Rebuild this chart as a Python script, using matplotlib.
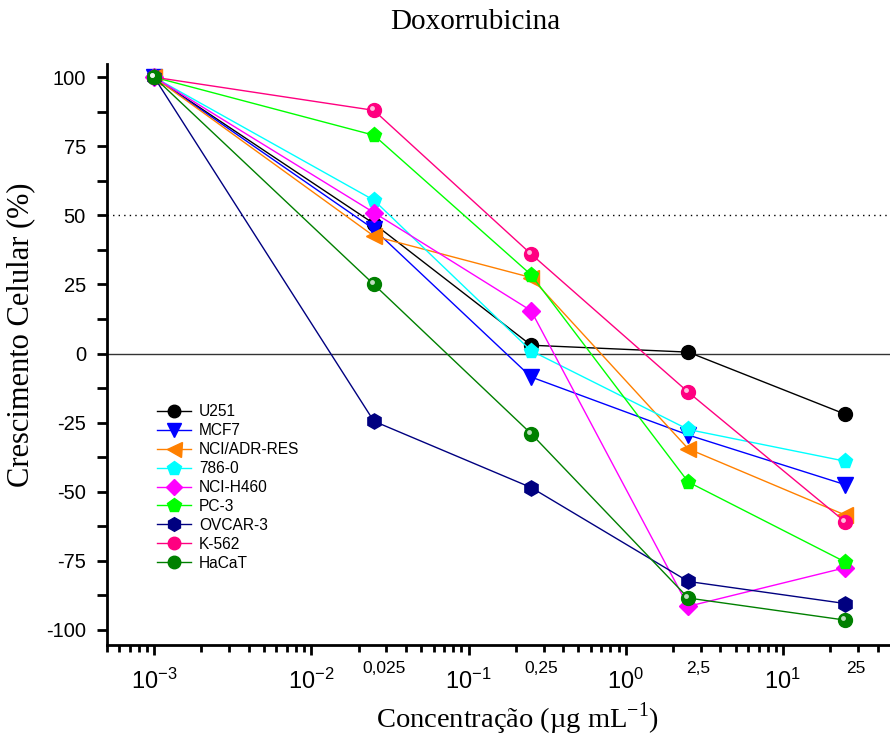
import matplotlib
matplotlib.use("Agg")
import matplotlib.pyplot as plt
import matplotlib.transforms as mtransforms
from matplotlib.ticker import FixedLocator, LogLocator, NullFormatter

plt.rcParams["axes.unicode_minus"] = False

conc = [0.001, 0.025, 0.25, 2.5, 25]
conc_labels = ["0,025", "0,25", "2,5", "25"]

lines = ["U251", "MCF7", "NCI/ADR-RES", "786-0", "NCI-H460", "PC-3", "OVCAR-3", "K-562", "HaCaT"]
u251 = [100, 47, 3, 0.5, -22]
mcf7 = [100, 45, -8.5, -29.5, -47.5]
nci_adr = [100, 42.5, 27.5, -34.5, -58.5]
c786 = [100, 55.5, 1, -27.5, -39]
h460 = [100, 51, 15.5, -91.5, -77.5]
pc3 = [100, 79, 28.5, -46.5, -75.5]
ovcar3 = [100, -24.5, -48.5, -82.5, -90.5]
k562 = [100, 88, 36, -14, -61]
hacat = [100, 25, -29, -88.5, -96.5]

series = [u251, mcf7, nci_adr, c786, h460, pc3, ovcar3, k562, hacat]
colors = ["black", "#0000FF", "#FF8000", "#00FFFF", "#FF00FF", "#00FF00", "#000080", "#FF0080", "#008000"]
markers = ["o", "v", "<", "p", "D", "p", "h", "o", "o"]
sizes = [10, 11, 12, 11, 9, 11, 11, 10, 10]
sphere = [False, False, False, False, False, False, False, True, True]

fig = plt.figure(figsize=(8.9, 7.38), dpi=100)
ax = fig.add_axes([0.12, 0.126, 0.88, 0.787])

ax.axhline(0, color="#333333", lw=1, zorder=1)
ax.axhline(50, color="black", lw=1, ls=(0, (1, 3)), zorder=1)

hl = mtransforms.offset_copy(ax.transData, fig=fig, x=-1.5, y=1.5, units="points")
for name, vals, c, m, s, sp in zip(lines, series, colors, markers, sizes, sphere):
    ax.plot(conc, vals, color=c, lw=1, marker=m, ms=s, mec=c, mfc=c, label=name, zorder=3)
    if sp:
        ax.plot(conc, vals, ls="none", marker="o", ms=3.5, mfc="white", mec="none",
                alpha=0.75, transform=hl, zorder=4)

ax.set_xscale("log")
ax.set_xlim(0.0005, 48)
ax.set_ylim(-105.5, 104.7)

ax.yaxis.set_major_locator(FixedLocator([-100, -75, -50, -25, 0, 25, 50, 75, 100]))
ax.yaxis.set_minor_locator(FixedLocator([-87.5, -62.5, -37.5, -12.5, 12.5, 37.5, 62.5, 87.5]))
ax.xaxis.set_major_locator(LogLocator(base=10, numticks=10))
ax.xaxis.set_minor_locator(LogLocator(base=10, subs=range(2, 10), numticks=20))
ax.xaxis.set_minor_formatter(NullFormatter())

for s in ["top", "right"]:
    ax.spines[s].set_visible(False)
ax.spines["left"].set_linewidth(2)
ax.spines["bottom"].set_linewidth(2)
ax.tick_params(axis="both", which="major", direction="out", width=2, length=7, labelsize=14.5,
               labelfontfamily="Liberation Sans")
ax.tick_params(axis="y", which="major", pad=8)
ax.tick_params(axis="y", which="minor", direction="out", width=2, length=7)
ax.tick_params(axis="x", which="minor", direction="out", width=2, length=5)
ax.tick_params(axis="x", which="major", pad=10, labelsize=17)

# concentration labels sit a little to the right of each dose
tr = mtransforms.offset_copy(mtransforms.blended_transform_factory(ax.transData, ax.transAxes),
                             fig=fig, x=10, y=0, units="dots")
for x, lab in zip(conc[1:], conc_labels):
    ax.text(x, -0.04, lab, transform=tr, ha="center", va="center", fontsize=12.5,
            family="Liberation Sans")

fig.text(475 / 890, 1 - 22 / 738, "Doxorrubicina", family="Liberation Serif", fontsize=21,
         ha="center", va="center")
ax.set_ylabel("Crescimento Celular (%)", family="Liberation Serif", fontsize=22)
ax.yaxis.set_label_coords(-0.091, 0.534)
ax.set_xlabel("Concentração (µg mL$^{\\mathregular{-1}}$)", family="Liberation Serif", fontsize=20.5)
ax.xaxis.set_label_coords(0.524, -0.095)

leg = ax.legend(loc="upper left", bbox_to_anchor=(0.056, 0.425), frameon=False,
                prop={"family": "Liberation Sans", "size": 11.2}, handlelength=2.2,
                labelspacing=0.25, handletextpad=0.5, markerscale=0.9, borderaxespad=0)

fig.savefig("out.png", dpi=100)
